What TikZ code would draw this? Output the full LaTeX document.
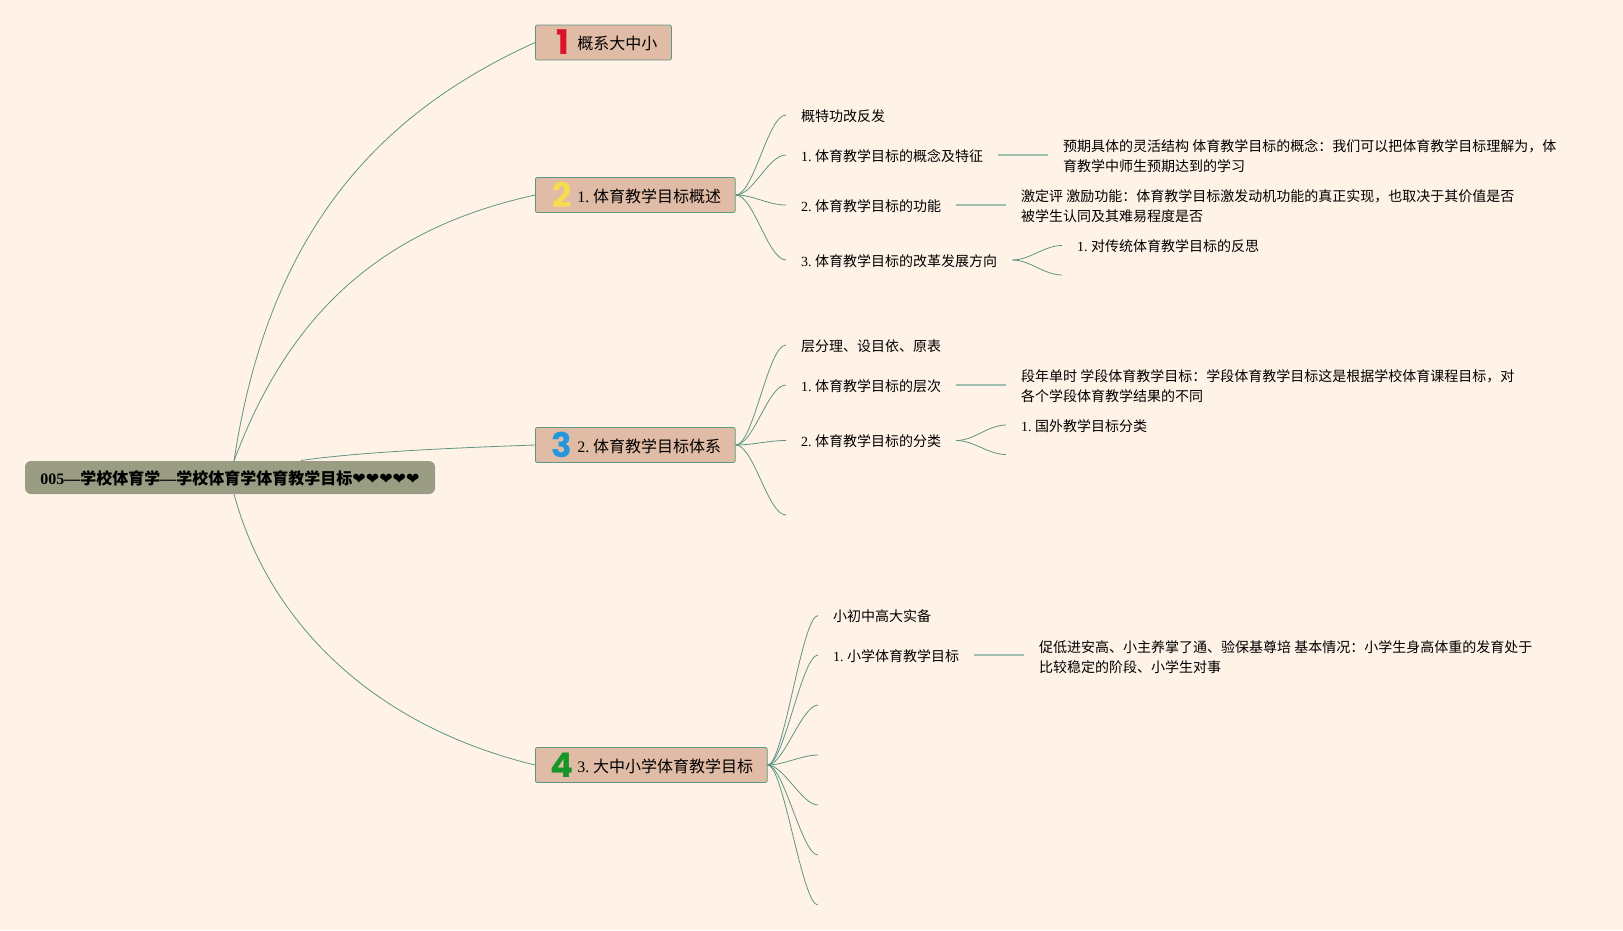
\documentclass[tikz,border=0pt]{standalone}
\usepackage{fontspec}
\setmainfont{Liberation Serif}
\newfontfamily\cjk{Noto Sans CJK SC}
\newfontfamily\heartfont{DejaVu Sans}
\newfontfamily\iconfont{Poppins}
\newcommand{\numgap}{\hspace{.24em}}
\definecolor{bgcream}{HTML}{FFF3E8}
\definecolor{rootfill}{HTML}{9A9D83}
\definecolor{topicfill}{HTML}{E0BBA6}
\definecolor{linegreen}{HTML}{5F9583}
\definecolor{linepale}{HTML}{9DBFAD}
\tikzset{
    rootbox/.style={fill=rootfill, rounded corners=6pt, minimum width=410pt, minimum height=33pt, inner sep=0pt, text height=16pt, text depth=1.6pt, font=\fontsize{16}{20}\selectfont\bfseries},
    topic/.style={draw=linegreen, fill=topicfill, line width=0.8pt, rounded corners=2pt, anchor=west, minimum height=35pt, inner xsep=14pt, inner ysep=0pt, text height=16pt, text depth=1.8pt, font=\fontsize{16}{20}\selectfont},
    numicon/.style={font=\iconfont\fontsize{34}{34}\selectfont\bfseries, inner sep=0pt},
    para/.style={anchor=west, inner xsep=15pt, inner ysep=0pt, align=left, font=\fontsize{14}{20}\selectfont},
    leaf/.style={anchor=west, inner xsep=15pt, inner ysep=0pt, text height=14pt, text depth=1.2pt, font=\fontsize{14}{20}\selectfont},
    branch/.style={draw=linegreen, line width=0.8pt},
    stem/.style={draw=linepale, line width=1.3pt},
}
\begin{document}
\begin{tikzpicture}[x=1pt, y=-1pt]
    \fill[bgcream] (0,0) rectangle (1623,930);

    % root and topics
    \node[rootbox] (root) at (230,477.5) {005—{\cjk 学校体育学}—{\cjk 学校体育学体育教学目标}{\heartfont ❤❤❤❤❤}};
    \coordinate (rootu) at (234,461);
    \coordinate (rootr) at (301,460.5);
    \coordinate (rootd) at (234,494);

    \node[topic] (t1) at (535,42.5) {\hspace*{28pt}{\cjk 概系大中小}};
    \node[topic] (t2) at (535,195) {\hspace*{28pt}1.\numgap{\cjk 体育教学目标概述}};
    \node[topic] (t3) at (535,445) {\hspace*{28pt}2.\numgap{\cjk 体育教学目标体系}};
    \node[topic] (t4) at (535,765) {\hspace*{28pt}3.\numgap{\cjk 大中小学体育教学目标}};

    \node[numicon, text={rgb,255:red,220;green,20;blue,40}] (n1) at (563,42) {1};
    \node[numicon, text={rgb,255:red,245;green,220;blue,80}] (n2) at (562,195) {2};
    \node[numicon, text={rgb,255:red,35;green,150;blue,220}] (n3) at (562,445) {3};
    \node[numicon, text={rgb,255:red,25;green,150;blue,40}] (n4) at (562,765) {4};

    \draw[branch] (rootu) .. controls (268,235) and (375,115) .. (t1.west);
    \draw[branch] (rootu) .. controls (290,310) and (385,228) .. (t2.west);
    \draw[branch] (rootr) .. controls (360,452) and (450,448) .. (t3.west);
    \draw[branch] (rootd) .. controls (268,620) and (370,725) .. (t4.west);

    % first topic
    \node[leaf] (a1) at (786,115) {\cjk 概特功改反发};
    \node[leaf] (a2) at (786,155) {1.\numgap{\cjk 体育教学目标的概念及特征}};
    \node[leaf] (a3) at (786,205) {2.\numgap{\cjk 体育教学目标的功能}};
    \node[leaf] (a4) at (786,260) {3.\numgap{\cjk 体育教学目标的改革发展方向}};
    \foreach \k in {a1,a2,a3,a4}
        \draw[branch] (t2.east) .. controls +(18,0) and +(-18,0) .. (\k.west);

    \node[para] (a2x) at (1048,156) {\cjk 预期具体的灵活结构 体育教学目标的概念：我们可以把体育教学目标理解为，体\\\cjk 育教学中师生预期达到的学习};
    \node[para] (a3x) at (1006,206) {\cjk 激定评 激励功能：体育教学目标激发动机功能的真正实现，也取决于其价值是否\\\cjk 被学生认同及其难易程度是否};
    \draw[stem] (a2.east) -- (a2.east -| a2x.west);
    \draw[stem] (a3.east) -- (a3.east -| a3x.west);

    \node[leaf] (a4x) at (1062,245.5) {1.\numgap{\cjk 对传统体育教学目标的反思}};
    \coordinate (a4y) at (1062,275);
    \draw[branch] (a4.east) .. controls +(18,0) and +(-18,0) .. (a4x.west);
    \draw[branch] (a4.east) .. controls +(18,0) and +(-18,0) .. (a4y);

    % second topic
    \node[leaf] (b1) at (786,345) {\cjk 层分理、设目依、原表};
    \node[leaf] (b2) at (786,385) {1.\numgap{\cjk 体育教学目标的层次}};
    \node[leaf] (b3) at (786,440.5) {2.\numgap{\cjk 体育教学目标的分类}};
    \coordinate (b4) at (786,515);
    \foreach \k in {b1,b2,b3}
        \draw[branch] (t3.east) .. controls +(18,0) and +(-18,0) .. (\k.west);
    \draw[branch] (t3.east) .. controls +(18,0) and +(-18,0) .. (b4);

    \node[para] (b2x) at (1006,386.5) {\cjk 段年单时 学段体育教学目标：学段体育教学目标这是根据学校体育课程目标，对\\\cjk 各个学段体育教学结果的不同};
    \draw[stem] (b2.east) -- (b2.east -| b2x.west);

    \node[leaf] (b3x) at (1006,425) {1.\numgap{\cjk 国外教学目标分类}};
    \coordinate (b3y) at (1006,454.5);
    \draw[branch] (b3.east) .. controls +(18,0) and +(-18,0) .. (b3x.west);
    \draw[branch] (b3.east) .. controls +(18,0) and +(-18,0) .. (b3y);

    % third topic
    \node[leaf] (c1) at (818,615.5) {\cjk 小初中高大实备};
    \node[leaf] (c2) at (818,655) {1.\numgap{\cjk 小学体育教学目标}};
    \coordinate (c3) at (818,705);
    \coordinate (c4) at (818,755);
    \coordinate (c5) at (818,805);
    \coordinate (c6) at (818,855);
    \coordinate (c7) at (818,905);
    \foreach \k in {c1,c2}
        \draw[branch] (t4.east) .. controls +(16,0) and +(-16,0) .. (\k.west);
    \foreach \k in {c3,c4,c5,c6,c7}
        \draw[branch] (t4.east) .. controls +(16,0) and +(-16,0) .. (\k);

    \node[para] (c2x) at (1024,657) {\cjk 促低进安高、小主养掌了通、验保基尊培 基本情况：小学生身高体重的发育处于\\\cjk 比较稳定的阶段、小学生对事};
    \draw[stem] (c2.east) -- (c2.east -| c2x.west);
\end{tikzpicture}
\end{document}
